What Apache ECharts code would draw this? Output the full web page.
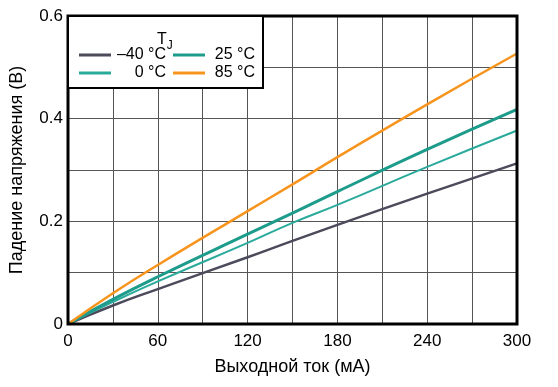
<!DOCTYPE html>
<html><head><meta charset="utf-8">
<script src="https://cdn.jsdelivr.net/npm/echarts@6/dist/echarts.min.js"></script>
<style>html,body{margin:0;padding:0;background:#fff}#c{width:558px;height:387px}</style>
</head><body><div id="c"></div>
<script>
const xValues = [0, 30, 60, 120, 150, 180, 240, 300];
const seriesNames = ['\u201340 \u00B0C', '0 \u00B0C', '25 \u00B0C', '85 \u00B0C'];
const vM40 = [0, 0.036, 0.068, 0.130, 0.162, 0.193, 0.254, 0.313];
const v0 = [0, 0.043, 0.083, 0.158, 0.197, 0.232, 0.306, 0.377];
const v25 = [0, 0.048, 0.092, 0.175, 0.216, 0.258, 0.340, 0.418];
const v85 = [0, 0.060, 0.115, 0.220, 0.272, 0.325, 0.428, 0.527];
const xTicks = [0, 60, 120, 180, 240, 300];
const yTicks = [0, 0.2, 0.4, 0.6];
const colors = ['#4b4b5c', '#2aaa9b', '#1d9b8b', '#f7941d'];
const widths = [2.5, 2, 3, 2.5];
const allVals = [vM40, v0, v25, v85];

const font = 'Liberation Sans, Arial, sans-serif';
const chart = echarts.init(document.getElementById('c'));
const series = allVals.map((vals, i) => ({
  name: seriesNames[i], type: 'line', showSymbol: false, smooth: true, z: 3,
  lineStyle: {color: colors[i], width: widths[i]}, itemStyle: {color: colors[i]},
  data: xValues.map((x, j) => [x, vals[j]])
}));
function legendCol(left, w, names) {
  return {
    orient: 'vertical', icon: 'rect', itemWidth: 32, itemHeight: 3, itemGap: 2,
    z: 10, selectedMode: false, left: left, top: 47, padding: 0, data: names,
    formatter: n => '{r|' + n + '}',
    textStyle: {fontFamily: font, fontSize: 16, color: '#000',
      rich: {r: {fontFamily: font, fontSize: 16, color: '#000', width: w, align: 'right', lineHeight: 17}}}
  };
}
chart.setOption({
  animation: false,
  grid: {left: 66, right: 41, top: 16, bottom: 63, show: true, borderColor: '#000', borderWidth: 3, z: 4},
  xAxis: {
    type: 'value', min: 0, max: 300, interval: 30,
    name: 'Выходной ток (мА)', nameLocation: 'middle', nameGap: 34,
    nameTextStyle: {fontFamily: font, fontSize: 18, color: '#000'},
    axisLine: {show: false}, axisTick: {show: false},
    axisLabel: {fontFamily: font, fontSize: 17, color: '#000', margin: 9,
      formatter: v => xTicks.includes(v) ? String(v) : ''},
    splitLine: {lineStyle: {color: '#555', width: 1}}
  },
  yAxis: {
    type: 'value', min: 0, max: 0.6, interval: 0.1,
    name: 'Падение напряжения (В)', nameLocation: 'middle', nameGap: 42,
    nameTextStyle: {fontFamily: font, fontSize: 18, color: '#000'},
    axisLine: {show: false}, axisTick: {show: false},
    axisLabel: {fontFamily: font, fontSize: 17, color: '#000', margin: 5,
      formatter: v => { const r = Math.round(v * 10) / 10; return yTicks.some(t => Math.abs(t - r) < 1e-9) ? String(r) : ''; }},
    splitLine: {lineStyle: {color: '#555', width: 1}}
  },
  legend: [
    legendCol(79, 50, [seriesNames[0], seriesNames[1]]),
    legendCol(173, 45, [seriesNames[2], seriesNames[3]])
  ],
  graphic: [
    {type: 'rect', z: 6, shape: {x: 68, y: 16, width: 195, height: 72},
     style: {fill: '#fff', stroke: '#000', lineWidth: 2}},
    {type: 'text', z: 11, left: 157, top: 28,
     style: {text: '{a|T}{b|J}', rich: {a: {fontFamily: font, fontSize: 16, fill: '#000', lineHeight: 20}, b: {fontFamily: font, fontSize: 12, fill: '#000', lineHeight: 20, padding: [12, 0, 0, 0]}}}}
  ],
  series: series
});
</script></body></html>
